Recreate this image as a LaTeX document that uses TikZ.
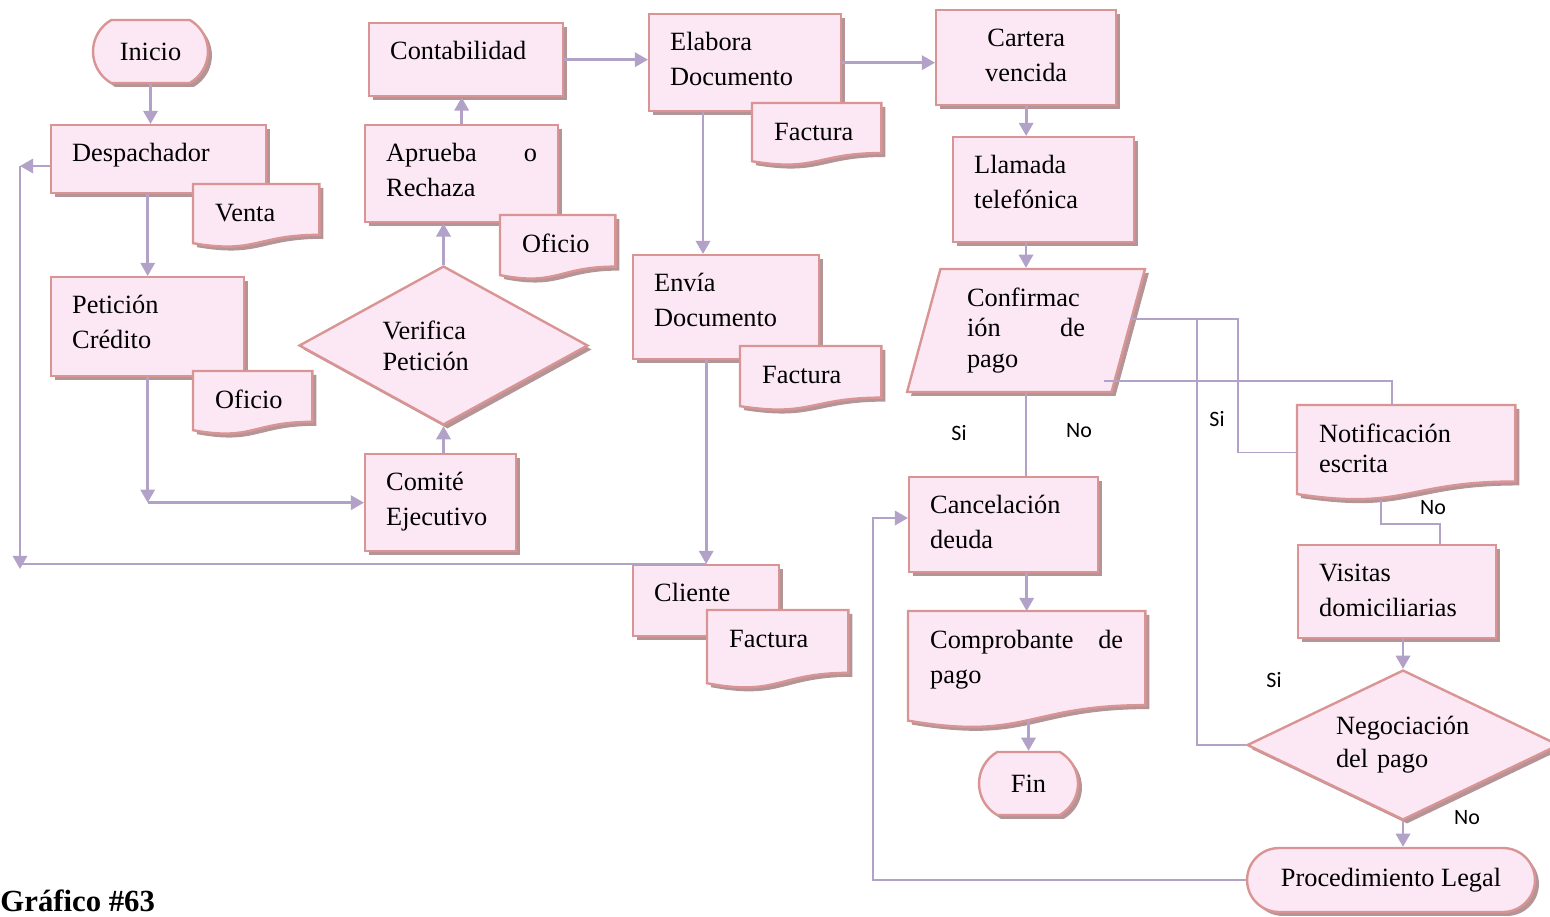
\documentclass[tikz,border=0pt]{standalone}
\usepackage{fontspec}
\setmainfont{Liberation Serif}
\newfontfamily\lblfont{Carlito}
\usetikzlibrary{arrows.meta}
\usetikzlibrary{positioning}
\usetikzlibrary{calc}
\usetikzlibrary{shapes.geometric}
\usetikzlibrary{shapes.misc}
\usetikzlibrary{shadows}

\definecolor{boxfill}{RGB}{252,232,245}
\definecolor{boxline}{RGB}{217,149,148}
\definecolor{boxshade}{RGB}{180,148,150}
\definecolor{flow}{RGB}{178,162,199}

% hoja con borde ondulado abajo
\makeatletter
\newdimen\docxa \newdimen\docya \newdimen\docxb \newdimen\docyb
\newdimen\docxm \newdimen\docyr \newdimen\docyl \newdimen\docyc \newdimen\doch
\pgfdeclareshape{docshape}{
  \inheritsavedanchors[from=rectangle]
  \inheritanchorborder[from=rectangle]
  \inheritanchor[from=rectangle]{center}
  \inheritanchor[from=rectangle]{text}
  \inheritanchor[from=rectangle]{base}
  \inheritanchor[from=rectangle]{mid}
  \inheritanchor[from=rectangle]{north}
  \inheritanchor[from=rectangle]{south}
  \inheritanchor[from=rectangle]{east}
  \inheritanchor[from=rectangle]{west}
  \inheritanchor[from=rectangle]{north west}
  \inheritanchor[from=rectangle]{north east}
  \inheritanchor[from=rectangle]{south west}
  \inheritanchor[from=rectangle]{south east}
  \backgroundpath{
    \southwest \docxa=\pgf@x \docya=\pgf@y
    \northeast \docxb=\pgf@x \docyb=\pgf@y
    \doch=\docyb \advance\doch by -\docya
    \docxm=.5\docxa \advance\docxm by .5\docxb
    \docyr=\docya \advance\docyr by .198\doch
    \docyl=\docya \advance\docyl by .066\doch
    \docyc=\docya \advance\docyc by -.1075\doch
    \pgfpathmoveto{\pgfqpoint{\docxa}{\docyb}}
    \pgfpathlineto{\pgfqpoint{\docxb}{\docyb}}
    \pgfpathlineto{\pgfqpoint{\docxb}{\docyr}}
    \pgfpathcurveto{\pgfqpoint{\docxm}{\docyr}}{\pgfqpoint{\docxm}{\docyc}}{\pgfqpoint{\docxa}{\docyl}}
    \pgfpathclose
  }
}
\makeatother

\tikzset{
  shapebase/.style={draw=boxline, fill=boxfill, line width=1.1pt,
    drop shadow={shadow xshift=1.8pt, shadow yshift=-1.8pt, fill=boxshade, opacity=1},
    font=\fontsize{12}{16}\selectfont},
  proc/.style={shapebase, rectangle, anchor=north west, inner xsep=0.336cm, inner ysep=0pt,
    text height=0.576cm, align=left},
  doc/.style={proc, shape=docshape},
  term/.style={shapebase, rounded rectangle, rounded rectangle arc length=120, inner sep=0pt,
    minimum height=1.008cm},
  decision/.style={shapebase, diamond, inner sep=0pt, align=left},
  io/.style={shapebase, trapezium, trapezium left angle=68.7, trapezium right angle=111.3,
    trapezium stretches body, inner sep=0pt, align=left},
  wire/.style={draw=flow, line width=1.2pt},
  arr/.style={wire, -{Triangle[length=6pt,width=6.5pt]}},
  link/.style={draw=flow, line width=0.7pt},
  lbl/.style={font=\lblfont\fontsize{10}{12}\selectfont, inner sep=0pt},
}

\begin{document}
\begin{tikzpicture}[x=0.016cm, y=-0.016cm]
\useasboundingbox (0,0) rectangle (1550,916);

% columna izquierda
\node[term, minimum width=1.84cm] (inicio) at (150.5,51.5) {Inicio};
\node[proc, text width=2.768cm, text depth=0.512cm] (desp) at (50,124) {Despachador};
\node[doc, text width=1.312cm, text depth=0.4cm] (venta) at (193,184) {Venta};
\node[proc, text width=2.416cm, text depth=1.008cm] (pet) at (50,276) {Petición\\Crédito};
\node[doc, text width=1.2cm, text depth=0.4cm] (ofi1) at (193,371) {Oficio};

% aprobacion
\node[decision, aspect=1.818, minimum width=4.624cm, minimum height=2.544cm, text width=1.952cm,
  font=\fontsize{12}{14}\selectfont] (verif) at (443.5,345.5) {Verifica\\Petición};
\node[proc, text width=1.744cm, text depth=0.976cm] (comite) at (364,453) {Comité\\Ejecutivo};
\node[proc, text width=2.416cm, text depth=0.976cm] (aprueba) at (364,124) {Aprueba\hfill o\\Rechaza};
\node[doc, text width=1.136cm, text depth=0.416cm] (ofi2) at (500,215) {Oficio};
\node[proc, text width=2.432cm, text depth=0.592cm] (conta) at (368,22) {Contabilidad};

% documentos
\node[proc, text width=2.4cm, text depth=0.976cm] (elabora) at (648,13) {Elabora\\Documento};
\node[doc, text width=1.36cm, text depth=0.384cm] (fact1) at (752,103) {Factura};
\node[proc, text width=2.304cm, text depth=1.088cm] (envia) at (632,254) {Envía\\Documento};
\node[doc, text width=1.552cm, text depth=0.416cm] (fact2) at (740,346) {Factura};
\node[proc, text width=1.664cm, text depth=0.56cm] (cliente) at (632,564) {Cliente};
\node[doc, text width=1.552cm, text depth=0.64cm] (fact3) at (707,610) {Factura};

% cobranza
\node[proc, align=center, text width=2.208cm, text depth=0.944cm] (cartera) at (935,9) {Cartera\\vencida};
\node[proc, text width=2.224cm, text depth=1.104cm] (llamada) at (952,136) {Llamada\\telefónica};
\node[io, minimum width=3.808cm, minimum height=1.968cm, text width=1.888cm,
  font=\fontsize{12}{14}\selectfont] (confirm) at (1026,330.5) {Confirmac\\ión\hfill de\\pago};
\node[proc, text width=2.352cm, text depth=0.944cm] (cancel) at (908,476) {Cancelación\\deuda};
\node[doc, text width=3.088cm, text depth=1.264cm] (comprob) at (908,611) {Comprobante\hfill de\\pago};
\node[term, minimum width=1.584cm] (fin) at (1028.5,783.5) {Fin};
\node[doc, text width=2.784cm, text depth=0.912cm, font=\fontsize{12}{14}\selectfont]
  (notif) at (1297,405) {Notificación\\escrita};
\node[proc, text width=2.496cm, text depth=0.912cm] (visitas) at (1297,544) {Visitas\\domiciliarias};
\node[decision, aspect=2.08, minimum width=4.992cm, minimum height=2.4cm, text width=2.144cm,
  font=\fontsize{12}{15}\selectfont] (negoc) at (1403,745) {Negociación\\del pago};
\node[term, rounded rectangle arc length=180, minimum width=4.608cm, minimum height=1.024cm]
  (legal) at (1391,880) {Procedimiento Legal};

% flechas
\coordinate (lt) at (20,166);
\coordinate (lb) at (20,569);
\draw[arr] (inicio.south) -- (inicio.south |- desp.north);
\draw[arr] (desp.west |- lt) -- (lt);
\draw[arr] (lt) -- (lb);
\draw[wire] (lt |- cliente.north) -- (cliente.north);
\draw[arr] (pet.north |- desp.south) -- (pet.north);
\coordinate (pc) at (pet.south |- comite.west);
\draw[arr] (pet.south) -- (pc);
\draw[arr] (pc) -- (comite.west);
\draw[arr] (verif.south |- comite.north) -- (verif.south);
\draw[arr] (verif.north) -- (verif.north |- aprueba.south);
\draw[arr] (aprueba.north) -- (aprueba.north |- conta.south);
\draw[arr] (conta.east) -- (conta.east -| elabora.west);
\draw[arr] (elabora.east) -- (elabora.east -| cartera.west);
\coordinate (ed) at ($(elabora.south west)+(55,0)$);
\draw[arr] (ed) -- (ed |- envia.north);
\draw[arr] (cliente.north |- envia.south) -- (cliente.north);
\draw[arr] (cartera.south) -- (cartera.south |- llamada.north);
\draw[arr] (confirm.north |- llamada.south) -- (confirm.north);
\draw[link] (confirm.south) -- (confirm.south |- cancel.north);
\draw[arr] (comprob.north |- cancel.south) -- (comprob.north);
\draw[arr] ($(fin.north |- comprob.south)+(0,-8)$) -- (fin.north);

% ramas de confirmacion
\coordinate (r1) at (1238,319);
\coordinate (r2) at (1197,319);
\coordinate (r3) at (1392,381);
\coordinate (r4) at (1104,381);
\draw[link] (confirm.east |- r1) -- (r1) |- (notif.west);
\draw[link] (r2) |- (negoc.west);
\draw[link] (r4) -- (r3) -- (r3 |- notif.north);
\coordinate (r5) at (1381,524);
\coordinate (r6) at (1440,524);
\draw[link] (r5 |- notif.south) -- (r5) -- (r6) -- (r6 |- visitas.north);
\draw[arr] (negoc.north |- visitas.south) -- (negoc.north);
\draw[arr] (negoc.south) -- (negoc.south |- legal.north);
\coordinate (r7) at (873,518);
\draw[arr] (legal.west) -| (r7) -- (r7 -| cancel.west);

% etiquetas
\node[lbl] (si1) at (959,433) {Si};
\node[lbl] (no1) at (1079,431) {No};
\node[lbl] (si2) at (1217,419) {Si};
\node[lbl] (no2) at (1433,508) {No};
\node[lbl] (si3) at (1274,680) {Si};
\node[lbl] (no3) at (1467,818) {No};

\node[font=\bfseries\fontsize{14}{16}\selectfont, anchor=base west, inner sep=0pt]
  (titulo) at (0,911) {Gráfico \#63};
\end{tikzpicture}
\end{document}
